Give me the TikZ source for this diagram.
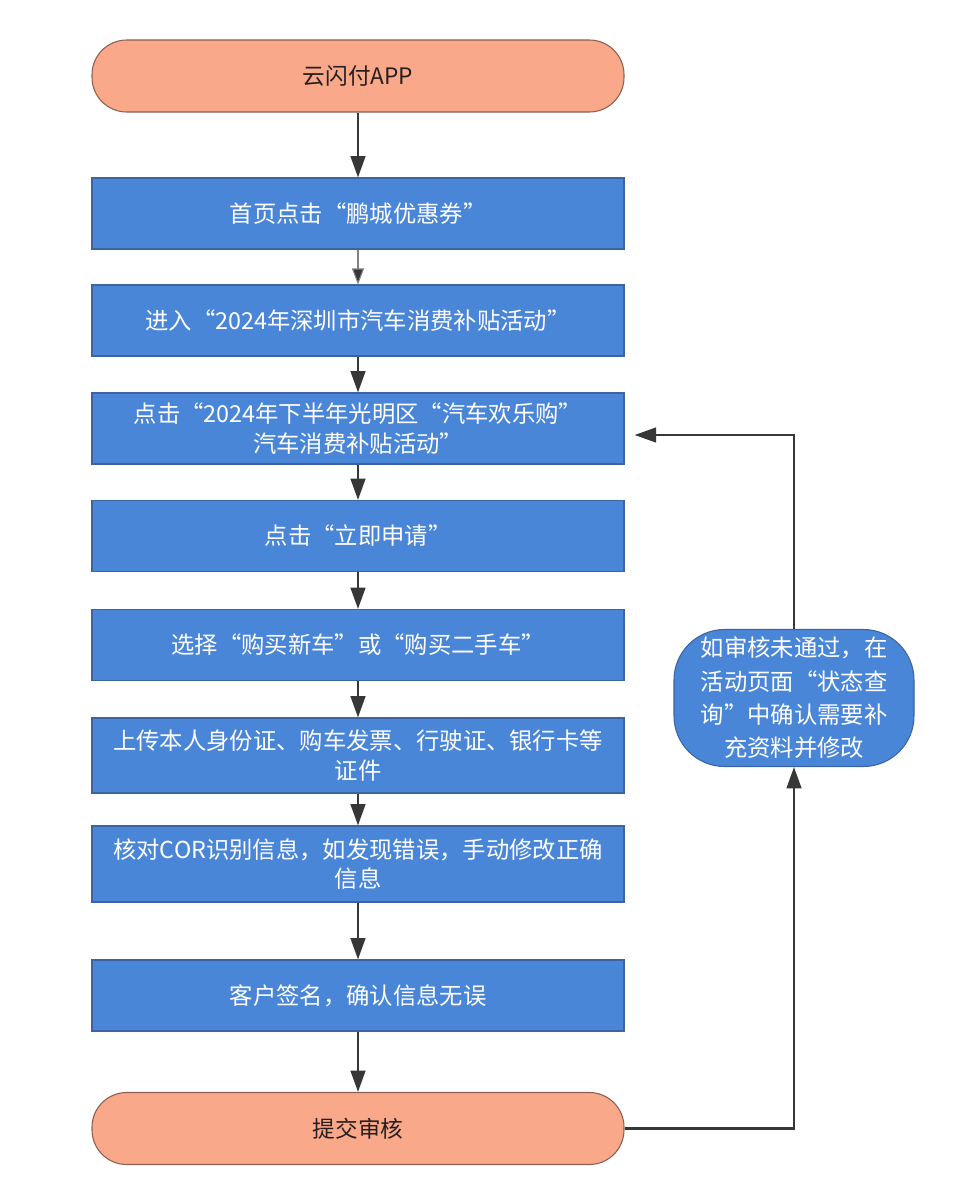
\documentclass[tikz,border=0pt]{standalone}
\usepackage{fontspec}
\setmainfont{Noto Sans CJK SC}
\usetikzlibrary{arrows.meta}
\definecolor{boxblue}{RGB}{74,134,216}
\definecolor{boxedge}{RGB}{60,100,160}
\definecolor{salmon}{RGB}{249,168,138}
\definecolor{salmonedge}{RGB}{140,95,80}
\definecolor{linegray}{RGB}{55,55,55}
\definecolor{txtdark}{RGB}{40,30,30}
\tikzset{
  stepbox/.style={draw=boxedge, line width=0.8pt, fill=boxblue, text=white,
    minimum width=532*0.75pt, minimum height=71*0.75pt, inner sep=2pt,
    align=center, font=\fontsize{17.5}{22}\selectfont},
  termbox/.style={draw=salmonedge, line width=0.8pt, fill=salmon, text=txtdark,
    rounded corners=26pt, minimum width=532*0.75pt, minimum height=72*0.75pt,
    align=center, font=\fontsize{17}{21}\selectfont},
  notebox/.style={draw=boxedge, line width=0.8pt, fill=boxblue, text=white,
    rounded corners=38pt, minimum width=240*0.75pt, minimum height=137*0.75pt,
    inner sep=0pt, align=center, font=\fontsize{17.5}{25}\selectfont},
  flow/.style={draw=linegray, line width=1.7pt, -{Triangle[length=16pt,width=11pt]}},
  thinflow/.style={draw=gray, line width=0.8pt, -{Triangle[length=12pt,width=9pt,fill=linegray]}},
}
\begin{document}
\begin{tikzpicture}[x=0.75pt,y=-0.75pt]
\useasboundingbox (0,0) rectangle (960,1203);
\fill[white] (0,0) rectangle (960,1203);
\node[termbox] (start) at (358,76) {云闪付APP};
\node[stepbox] (b1) at (358,213.5) {首页点击“鹏城优惠券”};
\node[stepbox] (b2) at (358,320.5) {进入“2024年深圳市汽车消费补贴活动”};
\node[stepbox] (b3) at (358,428.5) {点击“2024年下半年光明区“汽车欢乐购”\\汽车消费补贴活动”};
\node[stepbox] (b4) at (358,536) {点击“立即申请”};
\node[stepbox] (b5) at (358,645) {选择“购买新车”或“购买二手车”};
\node[stepbox, minimum height=75*0.75pt] (b6) at (358,755.5) {上传本人身份证、购车发票、行驶证、银行卡等\\证件};
\node[stepbox, minimum height=76*0.75pt] (b7) at (358,864) {核对COR识别信息，如发现错误，手动修改正确\\信息};
\node[stepbox] (b8) at (358,995.5) {客户签名，确认信息无误};
\node[termbox] (end) at (358,1128.5) {提交审核};
\node[notebox] (note) at (794,698) {如审核未通过，在\\活动页面“状态查\\询”中确认需要补\\充资料并修改};
\coordinate (c1) at (794,1128.5);
\coordinate (c2) at (794,435);
\coordinate (c3) at (624,435);
\draw[flow] (start) -- (b1);
\draw[thinflow] (b1) -- (b2);
\draw[flow] (b2) -- (b3);
\draw[flow] (b3) -- (b4);
\draw[flow] (b4) -- (b5);
\draw[flow] (b5) -- (b6);
\draw[flow] (b6) -- (b7);
\draw[flow] (b7) -- (b8);
\draw[flow] (b8) -- (end);
\draw[flow] (end.east) -- (c1) -- (note.south);
\draw[flow] (note.north) -- (c2) -- ([xshift=8pt]c3);
\end{tikzpicture}
\end{document}
